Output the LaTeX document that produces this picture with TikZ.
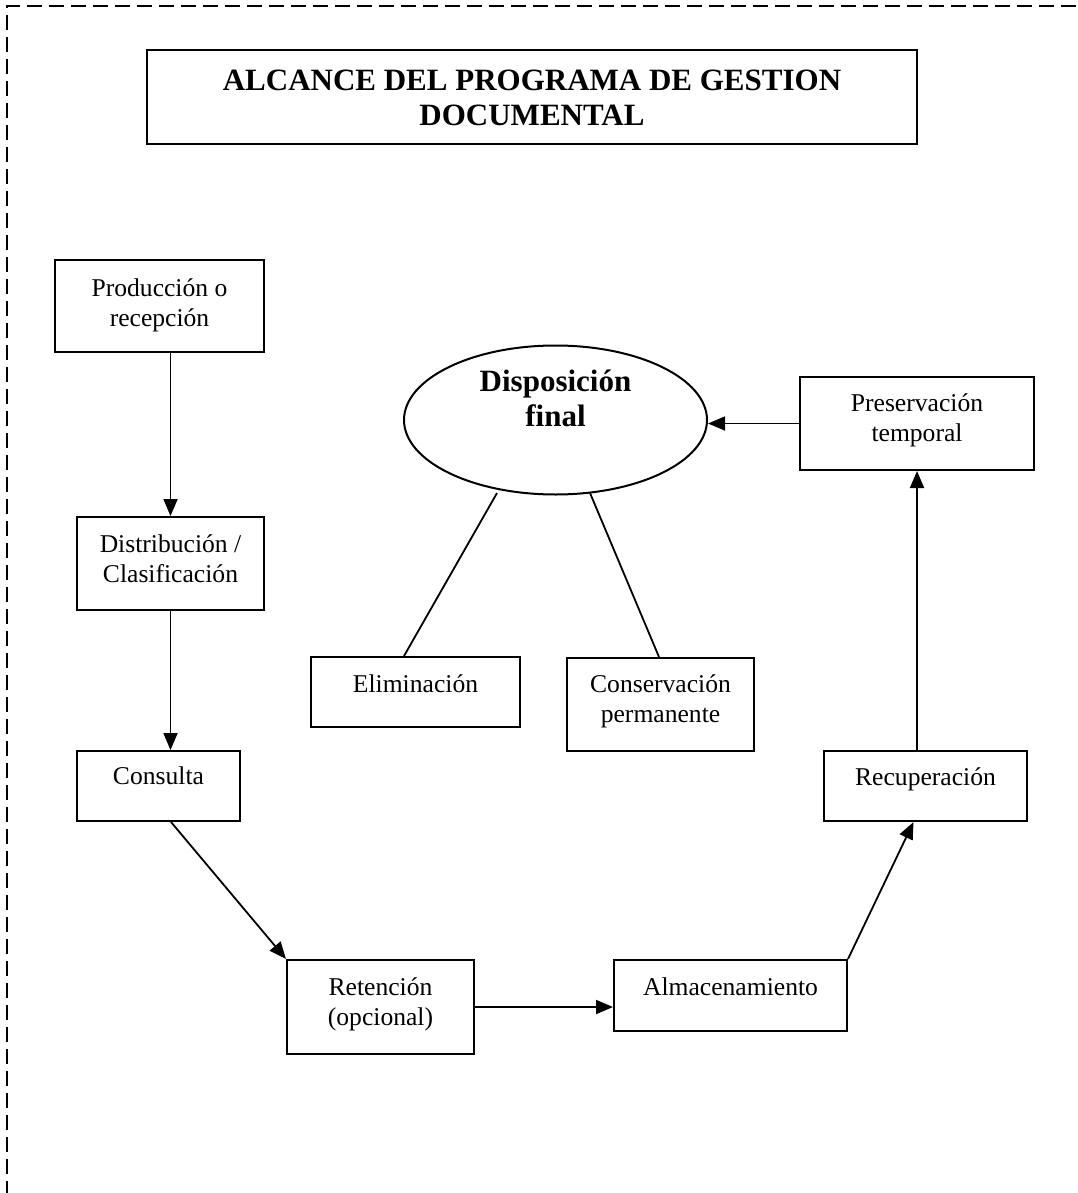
\documentclass[tikz,border=0pt]{standalone}
\usepackage{fontspec}
\setmainfont{Liberation Serif}
\usetikzlibrary{arrows.meta,shapes.geometric,calc}
\begin{document}
\begin{tikzpicture}[x=1pt,y=-1pt,
  box/.style={draw, line width=2pt, rectangle, inner sep=0pt},
  oval/.style={draw, line width=2pt, ellipse, inner sep=0pt},
  txt/.style={anchor=base, inner sep=0pt, font=\fontsize{25.6}{30}\selectfont},
  btxt/.style={anchor=base, inner sep=0pt, font=\fontsize{31}{35}\selectfont\bfseries},
  arr/.style={line width=1.8pt, -{Triangle[length=17pt,width=14pt]}},
  link/.style={line width=1.8pt}]
\useasboundingbox (0,0) rectangle (1077,1193);

% dashed page frame (continues past the right and bottom edges)
\begin{scope}
  \clip (0,0) rectangle (1077,1193);
  \draw[line width=2pt, dash pattern=on 15pt off 7pt] (7,1240) -- (7,6) -- (1120,6);
\end{scope}

% boxes
\node[box, minimum width=770pt, minimum height=94pt] (title) at (532,97) {};
\node[box, minimum width=209pt, minimum height=92pt] (prod) at (159.5,306) {};
\node[box, minimum width=187pt, minimum height=93pt] (dist) at (170.5,563.5) {};
\node[box, minimum width=163pt, minimum height=70pt] (cons) at (158.5,786) {};
\node[box, minimum width=187pt, minimum height=94pt] (ret) at (380.5,1007) {};
\node[box, minimum width=233pt, minimum height=71pt] (alm) at (730.5,995.5) {};
\node[box, minimum width=203pt, minimum height=70pt] (rec) at (925.5,786) {};
\node[box, minimum width=234pt, minimum height=93pt] (pres) at (917,423.5) {};
\node[box, minimum width=209pt, minimum height=70pt] (elim) at (415.5,692) {};
\node[box, minimum width=187pt, minimum height=93pt] (perm) at (660.5,704.5) {};
\node[oval, minimum width=303pt, minimum height=149pt] (disp) at (555.5,420) {};

% texts
\node[btxt] (ttitle) at (532,91) {\begin{tabular}[t]{@{}c@{}}ALCANCE DEL PROGRAMA DE GESTION\\DOCUMENTAL\end{tabular}};
\node[btxt] (tdisp) at (555.5,391) {\begin{tabular}[t]{@{}c@{}}Disposición\\final\end{tabular}};
\node[txt] (tprod) at (159.5,296) {\begin{tabular}[t]{@{}c@{}}Producción o\\recepción\end{tabular}};
\node[txt] (tdist) at (170.5,552) {\begin{tabular}[t]{@{}c@{}}Distribución /\\Clasificación\end{tabular}};
\node[txt] (tcons) at (158.5,784) {Consulta};
\node[txt] (tret) at (380.5,995) {\begin{tabular}[t]{@{}c@{}}Retención\\(opcional)\end{tabular}};
\node[txt] (talm) at (730.5,995) {Almacenamiento};
\node[txt] (trec) at (925.5,785) {Recuperación};
\node[txt] (tpres) at (917,411) {\begin{tabular}[t]{@{}c@{}}Preservación\\temporal\end{tabular}};
\node[txt] (telim) at (415.5,692) {Eliminación};
\node[txt] (tperm) at (660.5,692) {\begin{tabular}[t]{@{}c@{}}Conservación\\permanente\end{tabular}};

% flow connectors
\draw[arr] (prod.south -| dist.north) -- (dist.north);
\draw[arr] (dist.south) -- (dist.south |- cons.north);
\draw[arr] ([xshift=12.5pt]cons.south) -- (ret.north west);
\draw[arr] (ret.east) -- (ret.east -| alm.west);
\draw[arr] (alm.north east) -- ([xshift=-12pt]rec.south);
\draw[arr] (rec.north -| pres.south) -- (pres.south);
\draw[arr] (pres.west) -- (pres.west -| disp.east);

% branches of the final disposition
\coordinate (dl) at (497,493);
\coordinate (dr) at (590,493);
\draw[link] (dl) -- ([xshift=-11.5pt]elim.north);
\draw[link] (dr) -- ([xshift=-1.5pt]perm.north);
\end{tikzpicture}
\end{document}
